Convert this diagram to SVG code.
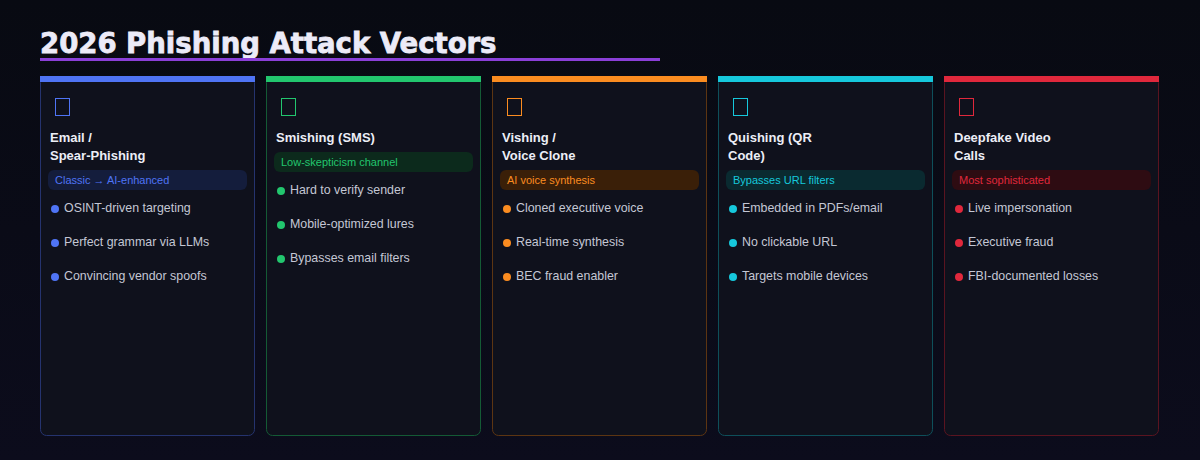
<svg xmlns="http://www.w3.org/2000/svg" width="1200" height="460" viewBox="0 0 1200 460">
<defs>
<linearGradient id="bg" x1="0" y1="0" x2="0" y2="1"><stop offset="0" stop-color="#080a12"/><stop offset="1" stop-color="#0c0c1c"/></linearGradient>
<style>
.card{fill:#0f111c;stroke-width:1}
.t{font-family:"Liberation Sans",Arial,sans-serif;font-weight:bold;font-size:13px;fill:#eceef6}
.b{font-family:"Liberation Sans",Arial,sans-serif;font-size:11px}
.i{font-family:"Liberation Sans",Arial,sans-serif;font-size:12.4px;fill:#c4c7d4}
.h{font-family:"DejaVu Sans",sans-serif;font-weight:bold;font-size:27.5px;fill:#ecebf8;stroke:#ecebf8;stroke-width:0.8}
</style>
</defs>
<rect width="1200" height="460" fill="url(#bg)"/>
<text class="h" x="40" y="53">2026 Phishing Attack Vectors</text>
<rect x="40" y="58" width="620" height="3" fill="#8a3fd8"/>
<g id="email">
<rect class="card" x="40.5" y="76.5" width="214" height="359" rx="6" stroke="#25336e"/>
<rect x="40" y="76" width="215" height="6" fill="#4f74f5"/>
<rect x="55.5" y="98.5" width="14" height="17" fill="none" stroke="#4f74f5"/>
<text class="t" x="50" y="142">Email /</text><text class="t" x="50" y="160">Spear-Phishing</text>
<rect x="48" y="170" width="199" height="20" rx="6" fill="#141d3c"/>
<text class="b" x="55" y="184" fill="#4f74f5">Classic → AI-enhanced</text>
<g fill="#4f74f5"><circle cx="55" cy="209" r="4"/><circle cx="55" cy="243" r="4"/><circle cx="55" cy="277" r="4"/></g>
<text class="i" x="64" y="212">OSINT-driven targeting</text><text class="i" x="64" y="246">Perfect grammar via LLMs</text><text class="i" x="64" y="280">Convincing vendor spoofs</text>
</g>
<g id="smishing">
<rect class="card" x="266.5" y="76.5" width="214" height="359" rx="6" stroke="#145a35"/>
<rect x="266" y="76" width="215" height="6" fill="#22c66e"/>
<rect x="281.5" y="98.5" width="14" height="17" fill="none" stroke="#22c66e"/>
<text class="t" x="276" y="142">Smishing (SMS)</text>
<rect x="274" y="152" width="199" height="20" rx="6" fill="#0c2a1c"/>
<text class="b" x="281" y="166" fill="#22c66e">Low-skepticism channel</text>
<g fill="#22c66e"><circle cx="281" cy="191" r="4"/><circle cx="281" cy="225" r="4"/><circle cx="281" cy="259" r="4"/></g>
<text class="i" x="290" y="194">Hard to verify sender</text><text class="i" x="290" y="228">Mobile-optimized lures</text><text class="i" x="290" y="262">Bypasses email filters</text>
</g>
<g id="vishing">
<rect class="card" x="492.5" y="76.5" width="214" height="359" rx="6" stroke="#5c3512"/>
<rect x="492" y="76" width="215" height="6" fill="#fb8c20"/>
<rect x="507.5" y="98.5" width="14" height="17" fill="none" stroke="#fb8c20"/>
<text class="t" x="502" y="142">Vishing /</text><text class="t" x="502" y="160">Voice Clone</text>
<rect x="500" y="170" width="199" height="20" rx="6" fill="#3a1f08"/>
<text class="b" x="507" y="184" fill="#fb8c20">AI voice synthesis</text>
<g fill="#fb8c20"><circle cx="507" cy="209" r="4"/><circle cx="507" cy="243" r="4"/><circle cx="507" cy="277" r="4"/></g>
<text class="i" x="516" y="212">Cloned executive voice</text><text class="i" x="516" y="246">Real-time synthesis</text><text class="i" x="516" y="280">BEC fraud enabler</text>
</g>
<g id="quishing">
<rect class="card" x="718.5" y="76.5" width="214" height="359" rx="6" stroke="#0e4f5a"/>
<rect x="718" y="76" width="215" height="6" fill="#16c8dc"/>
<rect x="733.5" y="98.5" width="14" height="17" fill="none" stroke="#16c8dc"/>
<text class="t" x="728" y="142">Quishing (QR</text><text class="t" x="728" y="160">Code)</text>
<rect x="726" y="170" width="199" height="20" rx="6" fill="#0a2a30"/>
<text class="b" x="733" y="184" fill="#16c8dc">Bypasses URL filters</text>
<g fill="#16c8dc"><circle cx="733" cy="209" r="4"/><circle cx="733" cy="243" r="4"/><circle cx="733" cy="277" r="4"/></g>
<text class="i" x="742" y="212">Embedded in PDFs/email</text><text class="i" x="742" y="246">No clickable URL</text><text class="i" x="742" y="280">Targets mobile devices</text>
</g>
<g id="deepfake">
<rect class="card" x="944.5" y="76.5" width="214" height="359" rx="6" stroke="#5a1420"/>
<rect x="944" y="76" width="215" height="6" fill="#e0283c"/>
<rect x="959.5" y="98.5" width="14" height="17" fill="none" stroke="#e0283c"/>
<text class="t" x="954" y="142">Deepfake Video</text><text class="t" x="954" y="160">Calls</text>
<rect x="952" y="170" width="199" height="20" rx="6" fill="#2e0c12"/>
<text class="b" x="959" y="184" fill="#e0283c">Most sophisticated</text>
<g fill="#e0283c"><circle cx="959" cy="209" r="4"/><circle cx="959" cy="243" r="4"/><circle cx="959" cy="277" r="4"/></g>
<text class="i" x="968" y="212">Live impersonation</text><text class="i" x="968" y="246">Executive fraud</text><text class="i" x="968" y="280">FBI-documented losses</text>
</g>
<g id="connectors"/>
</svg>
